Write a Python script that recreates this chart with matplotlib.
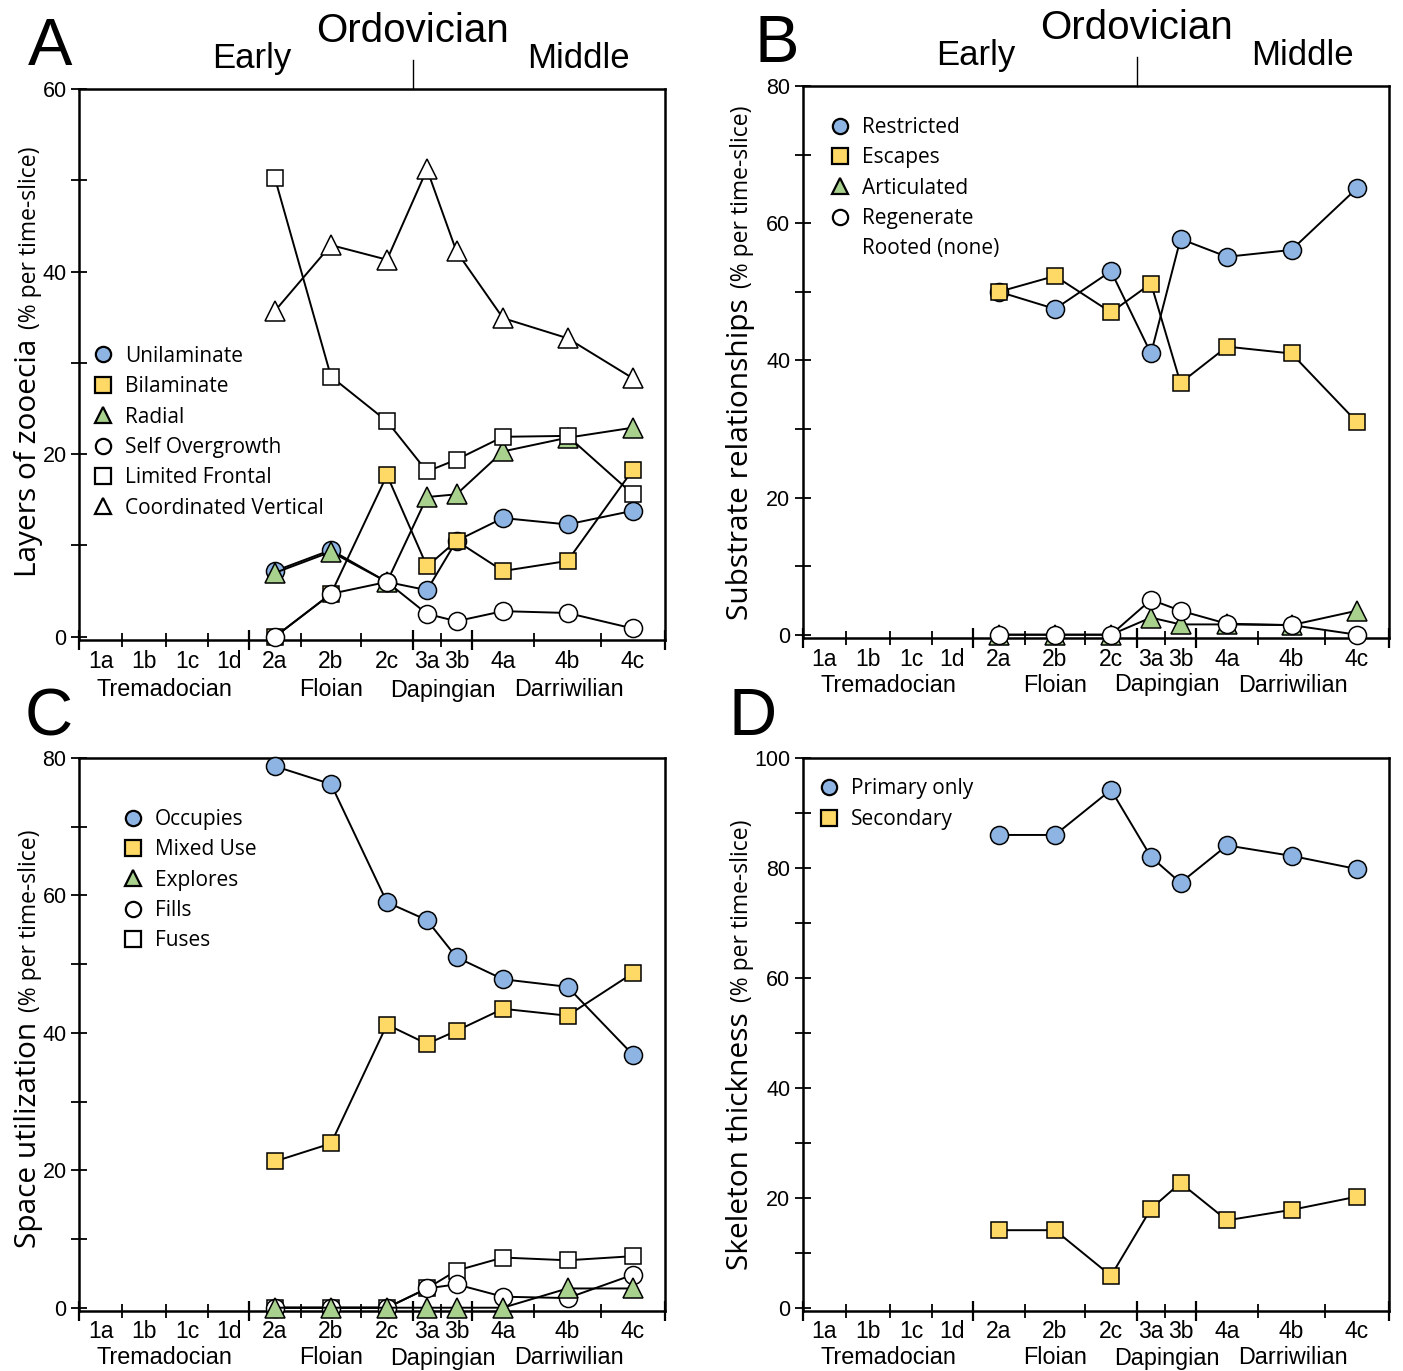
import matplotlib
matplotlib.use("Agg")
import matplotlib.pyplot as plt
import matplotlib.transforms as mtransforms
from matplotlib.lines import Line2D
import numpy as np

# time slices on the x axis (relative durations)
slices = ['1a', '1b', '1c', '1d', '2a', '2b', '2c', '3a', '3b', '4a', '4b', '4c']
slice_widths = [43, 44, 42, 41, 52, 60, 52, 28, 31, 62, 67, 64]
stages = ['Tremadocian', 'Floian', 'Dapingian', 'Darriwilian']
stage_nslices = [4, 3, 2, 3]
first_data_slice = 4  # data start at 2a

# A - layers of zooecia
unilaminate = [7.2, 9.5, 6.0, 5.1, 10.5, 13.0, 12.3, 13.8]
bilaminate = [0, 4.7, 17.7, 7.7, 10.5, 7.2, 8.3, 18.3]
radial = [7.0, 9.3, 6.0, 15.3, 15.6, 20.3, 21.8, 22.9]
self_overgrowth = [0, 4.7, 6.0, 2.5, 1.7, 2.8, 2.6, 0.9]
limited_frontal = [50.2, 28.5, 23.6, 18.1, 19.4, 21.9, 22.0, 15.6]
coordinated_vertical = [35.7, 42.9, 41.3, 51.2, 42.2, 34.9, 32.7, 28.3]

# B - substrate relationships
restricted = [50.0, 47.5, 53.0, 41.0, 57.7, 55.1, 56.1, 65.1]
escapes = [50.0, 52.3, 47.0, 51.2, 36.7, 42.0, 41.0, 31.0]
articulated = [0, 0, 0, 2.5, 1.5, 1.5, 1.4, 3.5]
regenerate = [0, 0, 0, 5.1, 3.5, 1.6, 1.4, 0]

# C - space utilization
occupies = [78.8, 76.2, 59.0, 56.4, 51.0, 47.8, 46.7, 36.8]
mixed_use = [21.3, 23.9, 41.2, 38.4, 40.3, 43.5, 42.5, 48.7]
explores = [0, 0, 0, 0, 0, 0, 2.8, 2.8]
fills = [0, 0, 0, 2.8, 3.4, 1.6, 1.4, 4.8]
fuses = [0, 0, 0, 2.8, 5.4, 7.3, 6.9, 7.5]

# D - skeleton thickness
primary_only = [86.0, 86.0, 94.2, 82.0, 77.3, 84.1, 82.2, 79.8]
secondary = [14.1, 14.1, 5.8, 18.0, 22.7, 15.9, 17.8, 20.2]

BLUE = '#8db4e2'
YELLOW = '#ffd966'
GREEN = '#a9d18e'
NARROW = ['Liberation Sans Narrow', 'Liberation Sans', 'DejaVu Sans']
SANS = ['Open Sans', 'DejaVu Sans']

plt.rcParams['font.family'] = NARROW

bounds = np.concatenate([[0], np.cumsum(slice_widths)])
mids = (bounds[:-1] + bounds[1:]) / 2
xdata = mids[first_data_slice:]
stage_edges = bounds[np.concatenate([[0], np.cumsum(stage_nslices)])]
early_middle = stage_edges[2]  # Floian / Dapingian

W, H = 1403, 1371
fig = plt.figure(figsize=(W / 100, H / 100), dpi=100)


def px_axes(l, r, t, b):
    return fig.add_axes([l / W, 1 - b / H, (r - l) / W, (b - t) / H])


def series(ax, y, marker, face, ms=13):
    ax.plot(xdata, y, color='black', lw=1.4, marker=marker, ms=ms,
            mfc=face, mec='black', mew=1.1, clip_on=False, zorder=3)


def px_offset(ax, dy):
    # blended transform: x in data, y in pixels below/above the bottom spine
    return (mtransforms.blended_transform_factory(ax.transData, ax.transAxes)
            + mtransforms.ScaledTranslation(0, dy / 100, fig.dpi_scale_trans))


def setup(ax, ymax, ystep, era_dy=-47):
    ax.set_xlim(bounds[0], bounds[-1])
    ax.set_ylim(-0.006 * ymax, ymax)
    for s in ax.spines.values():
        s.set_linewidth(1.8)
    ax.set_xticks(stage_edges)
    ax.set_xticks([b for b in bounds if b not in stage_edges], minor=True)
    ax.tick_params(axis='x', which='major', direction='inout', length=15, width=1.6,
                   labelbottom=False)
    ax.tick_params(axis='x', which='minor', direction='inout', length=10, width=1.3)
    ax.set_yticks(np.arange(0, ymax + 1, ystep))
    ax.set_yticks(np.arange(ystep / 2, ymax, ystep), minor=True)
    ax.tick_params(axis='y', which='both', direction='inout', length=12, width=1.3,
                   labelsize=15.5, pad=3)
    for m, lab in zip(mids, slices):
        ax.text(m, 0, lab, transform=px_offset(ax, -21), ha='center', va='center',
                fontsize=16.5)
    for i, st in enumerate(stages):
        c = (stage_edges[i] + stage_edges[i + 1]) / 2
        ax.text(c, 0, st, transform=px_offset(ax, era_dy), ha='center', va='center',
                fontsize=16.8)


def header(ax):
    trans = mtransforms.blended_transform_factory(ax.transData, ax.transAxes)
    ax.plot([early_middle, early_middle], [1, 1.053], color='black', lw=1.0,
            transform=trans, clip_on=False)
    ax.text(early_middle, 1.085, 'Ordovician', transform=trans, ha='center',
            va='baseline', fontsize=29)
    ax.text(0.295, 1.038, 'Early', transform=ax.transAxes, ha='center',
            va='baseline', fontsize=25)
    ax.text(0.852, 1.038, 'Middle', transform=ax.transAxes, ha='center',
            va='baseline', fontsize=25)


def legend(ax, entries, x, y):
    handles = []
    for marker, face in entries[1]:
        if marker is None:
            handles.append(Line2D([], [], linestyle='none'))
        else:
            handles.append(Line2D([], [], linestyle='none', marker=marker, ms=11,
                                  mfc=face, mec='black', mew=1.6))
    ax.legend(handles, entries[0], loc='upper left', bbox_to_anchor=(x, y),
              frameon=False, borderpad=0, borderaxespad=0, handlelength=1.0,
              handletextpad=0.55, labelspacing=0.45, prop={'family': SANS, 'size': 15})


renderer = fig.canvas.get_renderer()


def ylabel2(big, small, xbase, ystart):
    t1 = fig.text(xbase / W, 1 - ystart / H, big, rotation=90, rotation_mode='anchor',
                  ha='left', va='baseline', fontsize=21.5, family=SANS)
    h1 = t1.get_window_extent(renderer).height
    fig.text(xbase / W, 1 - (ystart - h1 - 10) / H, small, rotation=90,
             rotation_mode='anchor', ha='left', va='baseline', fontsize=16.5, family=SANS)


# ---- A
axA = px_axes(79, 665, 89, 640)
setup(axA, 60, 20, era_dy=-50)
header(axA)
series(axA, unilaminate, 'o', BLUE)
series(axA, bilaminate, 's', YELLOW, ms=12)
series(axA, radial, '^', GREEN, ms=14)
series(axA, self_overgrowth, 'o', 'white')
series(axA, limited_frontal, 's', 'white', ms=12)
series(axA, coordinated_vertical, '^', 'white', ms=14)
legend(axA, (['Unilaminate', 'Bilaminate', 'Radial', 'Self Overgrowth',
              'Limited Frontal', 'Coordinated Vertical'],
             [('o', BLUE), ('s', YELLOW), ('^', GREEN), ('o', 'white'),
              ('s', 'white'), ('^', 'white')]), 0.023, 0.534)
ylabel2('Layers of zooecia', '(% per time-slice)', 36, 577)

# ---- B
axB = px_axes(803, 1389, 86, 638)
setup(axB, 80, 20)
header(axB)
series(axB, restricted, 'o', BLUE)
series(axB, escapes, 's', YELLOW, ms=12)
series(axB, articulated, '^', GREEN, ms=14)
series(axB, regenerate, 'o', 'white')
legend(axB, (['Restricted', 'Escapes', 'Articulated', 'Regenerate', 'Rooted (none)'],
             [('o', BLUE), ('s', YELLOW), ('^', GREEN), ('o', 'white'), (None, None)]),
       0.045, 0.944)
ylabel2('Substrate relationships', '(% per time-slice)', 748, 620)

# ---- C
axC = px_axes(79, 665, 758, 1311)
setup(axC, 80, 20)
series(axC, fuses, 's', 'white', ms=12)
series(axC, fills, 'o', 'white')
series(axC, occupies, 'o', BLUE)
series(axC, mixed_use, 's', YELLOW, ms=12)
series(axC, explores, '^', GREEN, ms=14)
legend(axC, (['Occupies', 'Mixed Use', 'Explores', 'Fills', 'Fuses'],
             [('o', BLUE), ('s', YELLOW), ('^', GREEN), ('o', 'white'), ('s', 'white')]),
       0.074, 0.908)
ylabel2('Space utilization', '(% per time-slice)', 36, 1248)

# ---- D
axD = px_axes(803, 1389, 758, 1311)
setup(axD, 100, 20)
series(axD, primary_only, 'o', BLUE)
series(axD, secondary, 's', YELLOW, ms=12)
legend(axD, (['Primary only', 'Secondary'], [('o', BLUE), ('s', YELLOW)]),
       0.027, 0.963)
ylabel2('Skeleton thickness', '(% per time-slice)', 748, 1270)

# panel letters
for lab, x, y in [('A', 28, 65), ('B', 754, 62), ('C', 25, 735), ('D', 729, 735)]:
    fig.text(x / W, 1 - y / H, lab, fontsize=48, ha='left', va='baseline')

fig.savefig('out.png', dpi=100)
